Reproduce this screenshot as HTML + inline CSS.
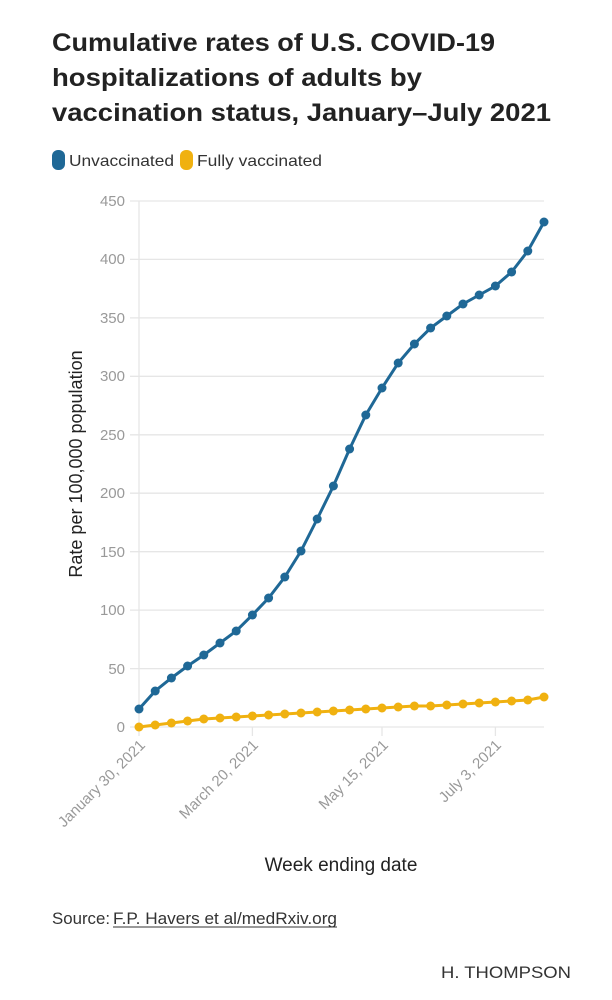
<!DOCTYPE html>
<html><head><meta charset="utf-8"><style>
html,body{margin:0;padding:0;background:#fff;}
svg{display:block;font-family:"Liberation Sans",sans-serif;}
</style></head><body>
<svg width="612" height="1000" viewBox="0 0 612 1000" xmlns="http://www.w3.org/2000/svg">
<g font-weight="bold" font-size="25" fill="#222">
<text x="52" y="51" textLength="443" lengthAdjust="spacingAndGlyphs">Cumulative rates of U.S. COVID-19</text>
<text x="52" y="86" textLength="370" lengthAdjust="spacingAndGlyphs">hospitalizations of adults by</text>
<text x="52" y="121" textLength="499" lengthAdjust="spacingAndGlyphs">vaccination status, January–July 2021</text>
</g>
<rect x="52" y="150" width="13" height="20" rx="6" fill="#1f6896"/>
<text x="69" y="166" font-size="16" fill="#333" textLength="105" lengthAdjust="spacingAndGlyphs">Unvaccinated</text>
<rect x="180" y="150" width="13" height="20" rx="6" fill="#f0b110"/>
<text x="197" y="166" font-size="16" fill="#333" textLength="125" lengthAdjust="spacingAndGlyphs">Fully vaccinated</text>
<g stroke="#e6e6e6" stroke-width="1.3">
<line x1="130" x2="544" y1="201" y2="201"/><line x1="130" x2="544" y1="259.4" y2="259.4"/>
<line x1="130" x2="544" y1="317.9" y2="317.9"/><line x1="130" x2="544" y1="376.3" y2="376.3"/>
<line x1="130" x2="544" y1="434.8" y2="434.8"/><line x1="130" x2="544" y1="493.2" y2="493.2"/>
<line x1="130" x2="544" y1="551.7" y2="551.7"/><line x1="130" x2="544" y1="610.1" y2="610.1"/>
<line x1="130" x2="544" y1="668.6" y2="668.6"/><line x1="130" x2="544" y1="727" y2="727"/>
<line x1="139" x2="139" y1="201" y2="736"/>
<line x1="252.4" x2="252.4" y1="727" y2="736"/><line x1="382" x2="382" y1="727" y2="736"/><line x1="495.4" x2="495.4" y1="727" y2="736"/>
</g>
<g font-size="15" fill="#999" text-anchor="end">
<text x="125" y="206">450</text><text x="125" y="264">400</text><text x="125" y="323">350</text>
<text x="125" y="381">300</text><text x="125" y="440">250</text><text x="125" y="498">200</text>
<text x="125" y="557">150</text><text x="125" y="615">100</text><text x="125" y="674">50</text>
<text x="125" y="732">0</text>
<text transform="translate(146,746) rotate(-45)">January 30, 2021</text>
<text transform="translate(259,746) rotate(-45)">March 20, 2021</text>
<text transform="translate(389,746) rotate(-45)">May 15, 2021</text>
<text transform="translate(502,746) rotate(-45)">July 3, 2021</text>
</g>
<text transform="translate(82,464) rotate(-90)" font-size="18" fill="#222" text-anchor="middle">Rate per 100,000 population</text>
<text x="341" y="871" font-size="19" fill="#222" text-anchor="middle">Week ending date</text>
<polyline fill="none" stroke="#f0b110" stroke-width="3" points="139,727 155.2,725 171.4,723 187.6,721 203.8,719 220,718 236.2,717 252.4,716 268.6,715 284.8,714 301,713 317.2,712 333.4,711 349.6,710 365.8,709 382,708 398.2,707 414.4,706 430.6,706 446.8,705 463,704 479.2,703 495.4,702 511.6,701 527.8,700 544,697"/>
<g fill="#f0b110">
<circle cx="139" cy="727" r="4.5"/><circle cx="155.2" cy="725" r="4.5"/><circle cx="171.4" cy="723" r="4.5"/><circle cx="187.6" cy="721" r="4.5"/><circle cx="203.8" cy="719" r="4.5"/><circle cx="220" cy="718" r="4.5"/><circle cx="236.2" cy="717" r="4.5"/><circle cx="252.4" cy="716" r="4.5"/><circle cx="268.6" cy="715" r="4.5"/><circle cx="284.8" cy="714" r="4.5"/><circle cx="301" cy="713" r="4.5"/><circle cx="317.2" cy="712" r="4.5"/><circle cx="333.4" cy="711" r="4.5"/><circle cx="349.6" cy="710" r="4.5"/><circle cx="365.8" cy="709" r="4.5"/><circle cx="382" cy="708" r="4.5"/><circle cx="398.2" cy="707" r="4.5"/><circle cx="414.4" cy="706" r="4.5"/><circle cx="430.6" cy="706" r="4.5"/><circle cx="446.8" cy="705" r="4.5"/><circle cx="463" cy="704" r="4.5"/><circle cx="479.2" cy="703" r="4.5"/><circle cx="495.4" cy="702" r="4.5"/><circle cx="511.6" cy="701" r="4.5"/><circle cx="527.8" cy="700" r="4.5"/><circle cx="544" cy="697" r="4.5"/>
</g>
<polyline fill="none" stroke="#1f6896" stroke-width="3" points="139,709 155.2,691 171.4,678 187.6,666 203.8,655 220,643 236.2,631 252.4,615 268.6,598 284.8,577 301,551 317.2,519 333.4,486 349.6,449 365.8,415 382,388 398.2,363 414.4,344 430.6,328 446.8,316 463,304 479.2,295 495.4,286 511.6,272 527.8,251 544,222"/>
<g fill="#1f6896">
<circle cx="139" cy="709" r="4.5"/><circle cx="155.2" cy="691" r="4.5"/><circle cx="171.4" cy="678" r="4.5"/><circle cx="187.6" cy="666" r="4.5"/><circle cx="203.8" cy="655" r="4.5"/><circle cx="220" cy="643" r="4.5"/><circle cx="236.2" cy="631" r="4.5"/><circle cx="252.4" cy="615" r="4.5"/><circle cx="268.6" cy="598" r="4.5"/><circle cx="284.8" cy="577" r="4.5"/><circle cx="301" cy="551" r="4.5"/><circle cx="317.2" cy="519" r="4.5"/><circle cx="333.4" cy="486" r="4.5"/><circle cx="349.6" cy="449" r="4.5"/><circle cx="365.8" cy="415" r="4.5"/><circle cx="382" cy="388" r="4.5"/><circle cx="398.2" cy="363" r="4.5"/><circle cx="414.4" cy="344" r="4.5"/><circle cx="430.6" cy="328" r="4.5"/><circle cx="446.8" cy="316" r="4.5"/><circle cx="463" cy="304" r="4.5"/><circle cx="479.2" cy="295" r="4.5"/><circle cx="495.4" cy="286" r="4.5"/><circle cx="511.6" cy="272" r="4.5"/><circle cx="527.8" cy="251" r="4.5"/><circle cx="544" cy="222" r="4.5"/>
</g>
<text x="52" y="924" font-size="17" fill="#333" textLength="58" lengthAdjust="spacingAndGlyphs">Source:</text>
<text x="113" y="924" font-size="17" fill="#333" textLength="224" lengthAdjust="spacingAndGlyphs">F.P. Havers et al/medRxiv.org</text>
<line x1="113" x2="337" y1="927" y2="927" stroke="#333" stroke-width="1"/>
<text x="571" y="978" font-size="17" fill="#333" text-anchor="end" textLength="130" lengthAdjust="spacingAndGlyphs">H. THOMPSON</text>
</svg>
</body></html>
